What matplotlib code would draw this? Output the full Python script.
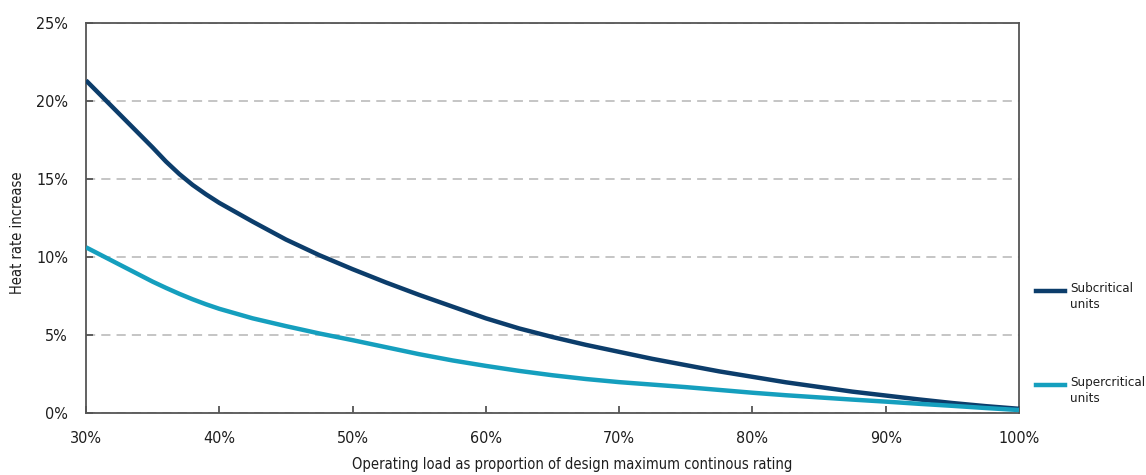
import matplotlib
matplotlib.use("Agg")
import matplotlib.pyplot as plt
from matplotlib.lines import Line2D
from matplotlib.ticker import FuncFormatter

plt.rcParams['font.family'] = ['DejaVu Sans']
plt.rcParams['font.stretch'] = 'condensed'

# Operating load (% of design maximum continuous rating)
load = [30, 32.5, 35, 36, 37, 38, 39, 40, 42.5, 45, 47.5, 50, 52.5, 55, 57.5, 60, 62.5, 65,
        67.5, 70, 72.5, 75, 77.5, 80, 82.5, 85, 87.5, 90, 92.5, 95, 97.5, 100]
# Heat rate increase (%)
subcritical = [21.3, 19.15, 17.0, 16.1, 15.3, 14.6, 14.0, 13.45, 12.25, 11.1, 10.1, 9.2, 8.35,
               7.55, 6.8, 6.05, 5.4, 4.85, 4.35, 3.9, 3.45, 3.05, 2.65, 2.3, 1.95, 1.65, 1.35,
               1.1, 0.85, 0.62, 0.42, 0.25]
supercritical = [10.6, 9.5, 8.4, 8.0, 7.62, 7.27, 6.95, 6.66, 6.05, 5.55, 5.08, 4.65, 4.2, 3.75,
                 3.35, 3.0, 2.68, 2.4, 2.16, 1.96, 1.8, 1.64, 1.46, 1.28, 1.12, 0.98, 0.84,
                 0.71, 0.57, 0.44, 0.3, 0.17]

series_names = ["Subcritical\nunits", "Supercritical\nunits"]
colors = ["#0c3d6b", "#159fbe"]

x_ticks = [30, 40, 50, 60, 70, 80, 90, 100]
y_ticks = [0, 5, 10, 15, 20, 25]

W, H = 1146, 475
fig = plt.figure(figsize=(W / 100, H / 100), dpi=100)
ax = fig.add_axes([86 / W, 1 - 412.7 / H, 933 / W, 390 / H])

lines = []
for vals, col in zip([subcritical, supercritical], colors):
    ln, = ax.plot(load, vals, color=col, lw=3.2, solid_capstyle='butt',
                  solid_joinstyle='round', zorder=3)
    lines.append(ln)

ax.set_xlim(30, 100)
ax.set_ylim(0, 25)
ax.set_xticks(x_ticks)
ax.set_yticks(y_ticks)
pct = FuncFormatter(lambda v, p: f"{v:.0f}%")
ax.xaxis.set_major_formatter(pct)
ax.yaxis.set_major_formatter(pct)

ax.grid(axis='y', color='#b5b5b5', linestyle=(0, (6, 4)), linewidth=1.1, zorder=1)
for s in ax.spines.values():
    s.set_color('#555555')
    s.set_linewidth(1.3)

ax.tick_params(axis='both', direction='in', length=5, width=1.3, color='#555555',
               labelsize=11.5, labelcolor='#1e1e1e')
ax.tick_params(axis='x', pad=13)
ax.tick_params(axis='y', pad=13)

# Axis titles
fig.text(572 / W, 1 - 465 / H, "Operating load as proportion of design maximum continous rating",
         fontsize=10.5, color='#1e1e1e', ha='center', va='center')
fig.text(18 / W, 1 - 233 / H, "Heat rate increase", fontsize=10.5, color='#1e1e1e',
         ha='center', va='center', rotation=90)

# Legend on the right-hand side, outside the plot area
legend_y = [291, 385]
for ln, name, yy in zip(lines, series_names, legend_y):
    fy = 1 - yy / H
    fig.add_artist(Line2D([1036 / W, 1065 / W], [fy, fy], color=ln.get_color(),
                          lw=3.2, transform=fig.transFigure))
    fig.text(1070 / W, fy + 9 / H, name, fontsize=9.5, color='#1e1e1e',
             va='top', ha='left', linespacing=1.35)

fig.savefig("out.png", dpi=100)
